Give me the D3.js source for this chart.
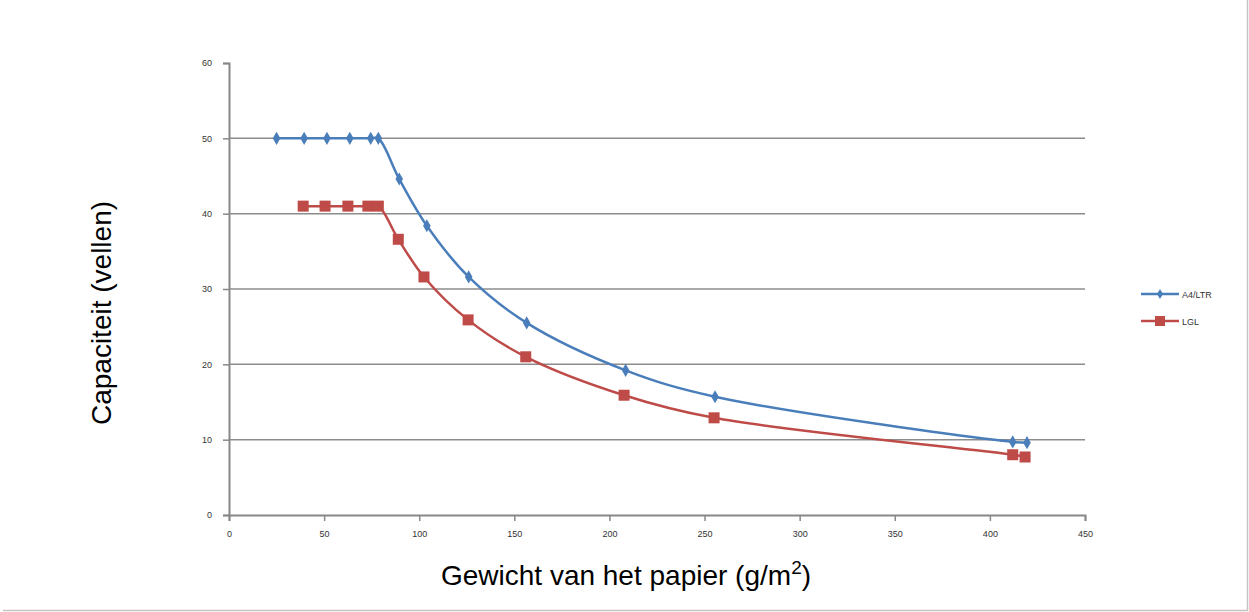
<!DOCTYPE html>
<html>
<head>
<meta charset="utf-8">
<script src="https://cdn.jsdelivr.net/npm/d3@7/dist/d3.min.js"></script>
<style>
  body { margin: 0; background: #fff; }
  text { font-family: "Liberation Sans", Arial, sans-serif; }
</style>
</head>
<body>
<div id="chart"></div>
<script>
// series data
var seriesNames = ["A4/LTR", "LGL"];
var a4X = [25, 39.5, 51.5, 63.5, 74.5, 78.5, 89.5, 104, 126, 156.5, 208.5, 255.5, 412, 419.5];
var a4Y = [50, 50, 50, 50, 50, 50, 44.6, 38.4, 31.6, 25.5, 19.2, 15.7, 9.7, 9.6];
var lglX = [39, 50.5, 62.5, 73, 78.5, 89, 102.5, 125.7, 156, 207.7, 255, 412, 418.5];
var lglY = [41, 41, 41, 41, 41, 36.6, 31.6, 25.9, 21, 15.9, 12.9, 8.0, 7.7];
var xTicks = [0, 50, 100, 150, 200, 250, 300, 350, 400, 450];
var yTicks = [0, 10, 20, 30, 40, 50, 60];
var colors = ["#4A7EBB", "#BE4B48"];

var width = 1249, height = 612;
var margin = {left: 229, right: 164, top: 63, bottom: 97};

var svg = d3.select("#chart")
  .append("svg")
  .attr("width", width)
  .attr("height", height);

// outer frame (only right and bottom edge visible)
svg.append("line").attr("x1", 3).attr("x2", 1248).attr("y1", 610.5).attr("y2", 610.5)
  .attr("stroke", "#c4c4c4").attr("stroke-width", 1.5);
svg.append("line").attr("x1", 1247.5).attr("x2", 1247.5).attr("y1", 0).attr("y2", 611)
  .attr("stroke", "#c4c4c4").attr("stroke-width", 1.5);

var x = d3.scaleLinear().domain([0, 450]).range([margin.left, width - margin.right]);
var y = d3.scaleLinear().domain([0, 60]).range([height - margin.bottom, margin.top]);

// gridlines
svg.append("g").selectAll("line")
  .data(yTicks.filter(function(d) { return d > 0 && d < 60; }))
  .enter().append("line")
  .attr("x1", x(0)).attr("x2", x(450))
  .attr("y1", function(d) { return y(d); })
  .attr("y2", function(d) { return y(d); })
  .attr("stroke", "#8c8c8c").attr("stroke-width", 1.5);

// axes
var xAxis = svg.append("g")
  .attr("transform", "translate(0," + y(0) + ")")
  .call(d3.axisBottom(x).tickValues(xTicks).tickSize(6).tickPadding(10));
var yAxis = svg.append("g")
  .attr("transform", "translate(" + x(0) + ",0)")
  .call(d3.axisLeft(y).tickValues(yTicks).tickSize(6).tickPadding(11));

[xAxis, yAxis].forEach(function(a) {
  a.select(".domain").attr("stroke", "#888").attr("stroke-width", 2);
  a.selectAll(".tick line").attr("stroke", "#888").attr("stroke-width", 1.5);
  a.selectAll(".tick text")
    .style("font-size", "9px")
    .style("font-family", "'Liberation Sans', Arial, sans-serif")
    .attr("fill", "#333");
});

// lines
var line = d3.line()
  .x(function(d) { return x(d[0]); })
  .y(function(d) { return y(d[1]); })
  .curve(d3.curveCatmullRom.alpha(0.5));

var a4Data = a4X.map(function(v, i) { return [v, a4Y[i]]; });
var lglData = lglX.map(function(v, i) { return [v, lglY[i]]; });

svg.append("path").datum(lglData)
  .attr("d", line).attr("fill", "none")
  .attr("stroke", colors[1]).attr("stroke-width", 2.5);
svg.append("path").datum(a4Data)
  .attr("d", line).attr("fill", "none")
  .attr("stroke", colors[0]).attr("stroke-width", 2.5);

// markers
var diamond = d3.symbol().type(d3.symbolDiamond).size(50);
svg.append("g").selectAll("path")
  .data(a4Data).enter().append("path")
  .attr("d", diamond)
  .attr("transform", function(d) { return "translate(" + x(d[0]) + "," + y(d[1]) + ")"; })
  .attr("fill", colors[0]);

svg.append("g").selectAll("rect")
  .data(lglData).enter().append("rect")
  .attr("x", function(d) { return x(d[0]) - 5.5; })
  .attr("y", function(d) { return y(d[1]) - 5.5; })
  .attr("width", 11).attr("height", 11)
  .attr("fill", colors[1]);

// legend
var legend = svg.append("g").attr("transform", "translate(1141,294)");
seriesNames.forEach(function(name, i) {
  var g = legend.append("g").attr("transform", "translate(0," + (i * 27) + ")");
  g.append("line").attr("x1", 0).attr("x2", 38).attr("y1", 0).attr("y2", 0)
    .attr("stroke", colors[i]).attr("stroke-width", 2.5);
  if (i === 0) {
    g.append("path").attr("d", d3.symbol().type(d3.symbolDiamond).size(30))
      .attr("transform", "translate(19,0)").attr("fill", colors[i]);
  } else {
    g.append("rect").attr("x", 14).attr("y", -5).attr("width", 10).attr("height", 10)
      .attr("fill", colors[i]);
  }
  g.append("text").attr("x", 41).attr("y", 3.5)
    .style("font-size", "9px").attr("fill", "#333")
    .text(name);
});

// axis titles
svg.append("text")
  .attr("transform", "translate(111," + 313 + ") rotate(-90)")
  .attr("text-anchor", "middle")
  .style("font-size", "28px")
  .text("Capaciteit (vellen)");

var xt = svg.append("text")
  .attr("x", 626).attr("y", 585)
  .attr("text-anchor", "middle")
  .style("font-size", "28px");
xt.append("tspan").text("Gewicht van het papier (g/m");
xt.append("tspan").attr("dy", -11).style("font-size", "19px").text("2");
xt.append("tspan").attr("dy", 11).text(")");
</script>
</body>
</html>
